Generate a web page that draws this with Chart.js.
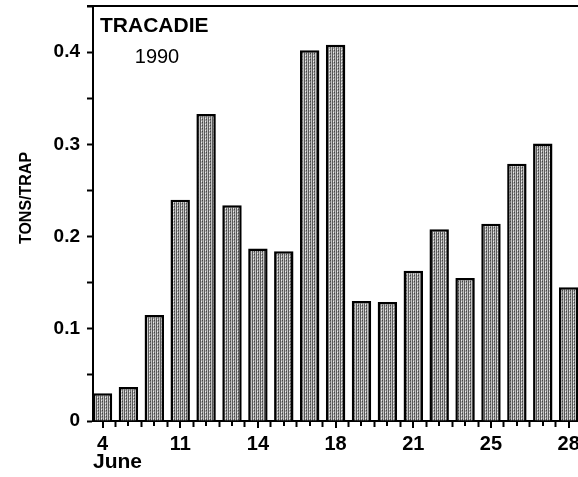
<!DOCTYPE html>
<html>
<head>
<meta charset="utf-8">
<script src="https://cdn.jsdelivr.net/npm/chart.js@4.4.1/dist/chart.umd.min.js"></script>
<style>
  html, body { margin: 0; padding: 0; background: #fff; overflow: hidden; }
  canvas { display: block; }
</style>
</head>
<body>
<canvas id="chart" width="578" height="477"></canvas>
<script>
// Catch per trap, Tracadie 1990 (bars are evenly spaced, only some are dated)
const tickLabels = ['4', '', '', '11', '', '', '14', '', '', '18', '', '', '21', '', '', '25', '', '', '28'];
const tonsPerTrap = [0.030, 0.037, 0.115, 0.240, 0.333, 0.234, 0.187, 0.184, 0.402, 0.408,
                     0.130, 0.129, 0.163, 0.208, 0.155, 0.214, 0.279, 0.301, 0.145];
const yTicks = [0, 0.1, 0.2, 0.3, 0.4];

const fontFamily = '"Liberation Sans", Arial, Helvetica, sans-serif';

// Stippled grey fill, like the printed bars
function makeStipple() {
    const c = document.createElement('canvas');
    c.width = 4; c.height = 3;
    const g = c.getContext('2d');
    const cols = ['#5a5a5a', '#b4b4b4', '#787878', '#c4c4c4'];
    cols.forEach((col, i) => { g.fillStyle = col; g.fillRect(i, 0, 1, 3); });
    g.fillStyle = '#ececec'; g.fillRect(1, 1, 1, 1);
    g.fillStyle = '#444'; g.fillRect(2, 2, 1, 1);
    return g.createPattern(c, 'repeat');
}

const points = tonsPerTrap.map((v, i) => ({ x: i + 1, y: v }));

// Texts, x tick marks and the top frame line
const annotations = {
    id: 'annotations',
    afterDraw(chart) {
        const { ctx, chartArea } = chart;
        const xScale = chart.scales.x;
        ctx.save();
        ctx.strokeStyle = '#000';
        ctx.lineWidth = 2;
        ctx.beginPath();
        ctx.moveTo(chartArea.left - 6, chartArea.top);
        ctx.lineTo(chartArea.right, chartArea.top);
        xScale.ticks.forEach(t => {
            const px = Math.round(xScale.getPixelForValue(t.value));
            ctx.moveTo(px, chartArea.bottom);
            ctx.lineTo(px, chartArea.bottom + (t.label ? 7 : 5));
        });
        ctx.stroke();

        ctx.fillStyle = '#000';
        ctx.textBaseline = 'middle';
        ctx.textAlign = 'left';
        ctx.font = 'bold 21px ' + fontFamily;
        ctx.fillText('TRACADIE', 100, 26);
        ctx.textAlign = 'center';
        ctx.font = '20px ' + fontFamily;
        ctx.fillText('1990', 157, 57);

        ctx.translate(27, 198);
        ctx.rotate(-Math.PI / 2);
        ctx.font = 'bold 16px ' + fontFamily;
        ctx.fillText('TONS/TRAP', 0, 0);
        ctx.restore();
    }
};

new Chart(document.getElementById('chart'), {
    type: 'bar',
    data: {
        datasets: [{
            data: points,
            backgroundColor: makeStipple(),
            borderColor: '#000',
            borderWidth: 2.5,
            borderSkipped: 'bottom',
            categoryPercentage: 1,
            barPercentage: 0.75
        }]
    },
    options: {
        responsive: false,
        animation: false,
        layout: { padding: { top: 6, left: 0, right: 0, bottom: 0 } },
        plugins: {
            legend: { display: false },
            tooltip: { enabled: false }
        },
        scales: {
            x: {
                type: 'linear',
                offset: false,
                min: 0.633,
                max: 19.36,
                afterFit: (axis) => {
                    axis.height = 56;
                    axis.paddingLeft = 0;
                    axis.paddingRight = 0;
                },
                border: { color: '#000', width: 2 },
                grid: { drawOnChartArea: false, tickLength: 6, tickColor: '#000', tickWidth: 2 },
                ticks: {
                    stepSize: 1,
                    includeBounds: false,
                    autoSkip: false,
                    maxRotation: 0,
                    padding: 5,
                    color: '#000',
                    font: { family: fontFamily, size: 20, weight: 'bold' },
                    callback: (v) => tickLabels[Math.round(v) - 1] ?? ''
                },
                title: {
                    display: true,
                    text: 'June',
                    align: 'start',
                    color: '#000',
                    padding: { top: 0, bottom: 2 },
                    font: { family: fontFamily, size: 21, weight: 'bold' }
                }
            },
            y: {
                min: 0,
                max: 0.45,
                afterFit: (axis) => {
                    axis.width = 93;
                    axis.paddingTop = 0;
                    axis.paddingBottom = 0;
                },
                border: { color: '#000', width: 2 },
                grid: { drawOnChartArea: false, tickLength: 6, tickColor: '#000', tickWidth: 2 },
                ticks: {
                    stepSize: 0.05,
                    padding: 7,
                    color: '#000',
                    font: { family: fontFamily, size: 19, weight: 'bold' },
                    callback: (v) => {
                        const t = yTicks.find(y => Math.abs(y - v) < 1e-6);
                        if (t === undefined) return '';
                        return t === 0 ? '0' : t.toFixed(1);
                    }
                }
            }
        }
    },
    plugins: [annotations]
});
</script>
</body>
</html>
